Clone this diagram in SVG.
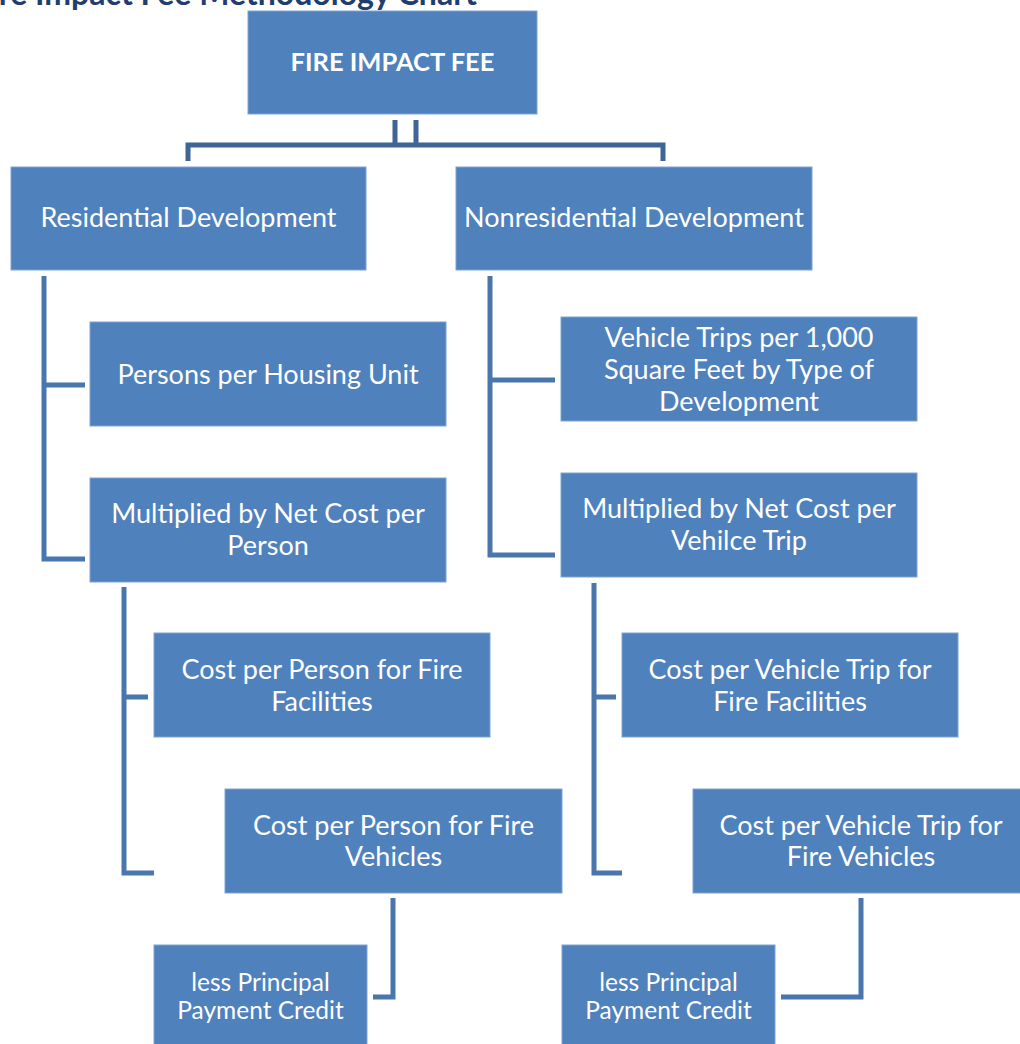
<svg xmlns="http://www.w3.org/2000/svg" width="1020" height="1044" viewBox="0 0 1020 1044">
<style>
.box{fill:#4F81BD;stroke:#7FA3D3;stroke-width:1}
.t{font-family:Lato,"Open Sans","Liberation Sans",sans-serif;font-size:27px;fill:#FFFFFF;text-anchor:middle}
.s{font-size:24.5px}
.b{font-weight:bold;font-size:25.5px}
.c{fill:none;stroke:#4A76AE;stroke-width:5;stroke-linejoin:miter}
.ct{stroke:#3F6597}
.title{font-family:Lato,"Open Sans","Liberation Sans",sans-serif;font-size:32px;font-weight:bold;fill:#1F3D6E;text-anchor:end}
</style>
<rect width="1020" height="1044" fill="#FFFFFF"/>
<text class="title" x="477" y="5">Fire Impact Fee Methodology Chart</text>
<g id="connectors">
<path class="c ct" d="M395,120 V145 M416,120 V145 M188,161 V145 H663 V161"/>
<path class="c" d="M44,276 V559 H85 M44,385 H85"/>
<path class="c" d="M490,276 V555 H555 M490,380 H555"/>
<path class="c" d="M124,587 V873 H154 M124,697 H148"/>
<path class="c" d="M594,583 V873 H622 M594,697 H616"/>
<path class="c" d="M393,898 V997 H373"/>
<path class="c" d="M861,898 V997 H781"/>
</g>
<g id="fire-impact-fee"><rect class="box" x="248" y="11" width="289" height="103"/><text class="t b" x="392.5" y="71">FIRE IMPACT FEE</text></g>
<g id="residential"><rect class="box" x="11" y="167" width="355" height="103"/><text class="t" x="188.5" y="227">Residential Development</text></g>
<g id="nonresidential"><rect class="box" x="456" y="167" width="356" height="103"/><text class="t" x="634" y="227">Nonresidential Development</text></g>
<g id="persons-per-unit"><rect class="box" x="90" y="322" width="356" height="104"/><text class="t" x="268" y="384">Persons per Housing Unit</text></g>
<g id="mult-person"><rect class="box" x="90" y="478" width="356" height="104"/><text class="t" x="268" y="523">Multiplied by Net Cost per</text><text class="t" x="268" y="555">Person</text></g>
<g id="vehicle-trips"><rect class="box" x="561" y="317" width="356" height="104"/><text class="t" x="739" y="347">Vehicle Trips per 1,000</text><text class="t" x="739" y="379">Square Feet by Type of</text><text class="t" x="739" y="411">Development</text></g>
<g id="mult-trip"><rect class="box" x="561" y="473" width="356" height="104"/><text class="t" x="739" y="518">Multiplied by Net Cost per</text><text class="t" x="739" y="550">Vehilce Trip</text></g>
<g id="cpp-facilities"><rect class="box" x="154" y="633" width="336" height="104"/><text class="t" x="322" y="679">Cost per Person for Fire</text><text class="t" x="322" y="711">Facilities</text></g>
<g id="cpvt-facilities"><rect class="box" x="622" y="633" width="336" height="104"/><text class="t" x="790" y="679">Cost per Vehicle Trip for</text><text class="t" x="790" y="711">Fire Facilities</text></g>
<g id="cpp-vehicles"><rect class="box" x="225" y="789" width="337" height="104"/><text class="t" x="393.5" y="835">Cost per Person for Fire</text><text class="t" x="393.5" y="866">Vehicles</text></g>
<g id="cpvt-vehicles"><rect class="box" x="693" y="789" width="336" height="104"/><text class="t" x="861" y="835">Cost per Vehicle Trip for</text><text class="t" x="861" y="866">Fire Vehicles</text></g>
<g id="credit-left"><rect class="box" x="154" y="945" width="213" height="104"/><text class="t s" x="260.5" y="991">less Principal</text><text class="t s" x="260.5" y="1019">Payment Credit</text></g>
<g id="credit-right"><rect class="box" x="562" y="945" width="213" height="104"/><text class="t s" x="668.5" y="991">less Principal</text><text class="t s" x="668.5" y="1019">Payment Credit</text></g>
</svg>
